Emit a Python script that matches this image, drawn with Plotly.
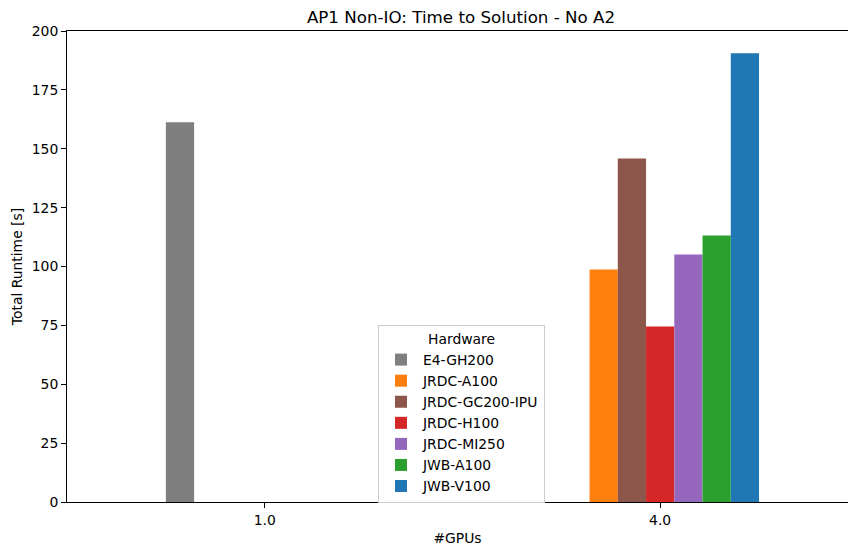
import plotly.graph_objects as go

categories = ["1.0", "4.0"]
series_names = ["E4-GH200", "JRDC-A100", "JRDC-GC200-IPU", "JRDC-H100",
                "JRDC-MI250", "JWB-A100", "JWB-V100"]
e4_gh200 = [161.2, None]
jrdc_a100 = [None, 98.7]
jrdc_gc200_ipu = [None, 145.9]
jrdc_h100 = [None, 74.5]
jrdc_mi250 = [None, 105.1]
jwb_a100 = [None, 113.2]
jwb_v100 = [None, 190.6]
y_ticks = [0, 25, 50, 75, 100, 125, 150, 175, 200]

series_values = [e4_gh200, jrdc_a100, jrdc_gc200_ipu, jrdc_h100,
                 jrdc_mi250, jwb_a100, jwb_v100]
colors = ["#7f7f7f", "#ff7f0e", "#8c564b", "#d62728", "#9467bd", "#2ca02c", "#1f77b4"]

n = len(series_names)
w = 0.5 / n
fig = go.Figure()
for i, (name, vals, c) in enumerate(zip(series_names, series_values, colors)):
    fig.add_trace(go.Bar(
        x=categories, y=vals, name=name, marker=dict(color=c, line=dict(width=0)),
        width=w, offset=-0.25 + i * w,
    ))

font = "DejaVu Sans, Liberation Sans, sans-serif"
fig.update_layout(
    width=848, height=547,
    barmode="overlay",
    paper_bgcolor="white", plot_bgcolor="white",
    margin=dict(l=67, r=0, t=31, b=45, pad=0, autoexpand=False),
    font=dict(family=font, size=13.9, color="black"),
    title=dict(text="AP1 Non-IO: Time to Solution - No A2", x=461 / 848,
               xanchor="center", y=1 - 17 / 547, yanchor="middle", automargin=False,
               font=dict(size=16.7, family=font, color="black")),
    xaxis=dict(type="category", range=[-0.5, 1.475], showline=True, linecolor="black",
               linewidth=1.1, mirror=True, ticks="outside", ticklen=4.9, tickwidth=1,
               tickcolor="black", showgrid=False, zeroline=False, automargin=False,
               title=dict(text="#GPUs", standoff=6, font=dict(size=13.9))),
    yaxis=dict(range=[0, 200], tickvals=y_ticks, showline=True, linecolor="black",
               linewidth=1.1, ticks="outside", ticklen=4.9, tickwidth=1, tickcolor="black",
               showgrid=False, zeroline=False, automargin=False,
               title=dict(text="Total Runtime [s]", standoff=5, font=dict(size=13.9))),
    legend=dict(x=(378 - 67) / 781, y=(502 - 325) / 471, xanchor="left", yanchor="top",
                bordercolor="#cccccc", borderwidth=1, bgcolor="rgba(255,255,255,0.8)",
                font=dict(size=13.9), tracegroupgap=0, itemwidth=34,
                title=dict(text="Hardware", side="top center", font=dict(size=13.9))),
)
fig.write_html("out.html", config={"displayModeBar": False},
               post_script="document.body.style.margin='0';")
